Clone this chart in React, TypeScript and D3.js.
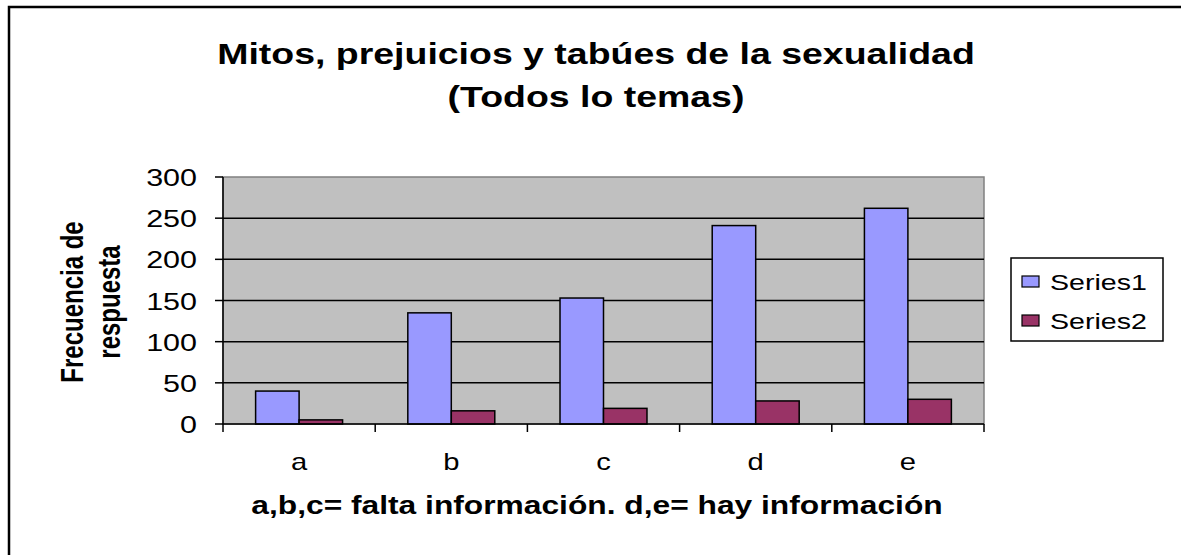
import React from "react";
import * as d3 from "d3";

const categories = ["a", "b", "c", "d", "e"];
const seriesNames = ["Series1", "Series2"];
const series1 = [40, 135, 153, 241, 262];
const series2 = [5, 16, 19, 28, 30];
const yTicks = [0, 50, 100, 150, 200, 250, 300];

const titleLines = ["Mitos, prejuicios y tabúes de la sexualidad", "(Todos lo temas)"];
const xTitle = "a,b,c= falta información. d,e= hay información";
const yTitleLines = ["Frecuencia de", "respuesta"];

const colors = ["#9999FF", "#993366"];
const font = "'Liberation Sans', Arial, sans-serif";
// the source picture is stretched sideways, so text gets the same stretch
const k = 1.27;

const W = 1181;
const H = 555;
const plot = {left: 223, right: 984, top: 177, bottom: 424};

const StretchText = ({x, y, size, anchor = "middle", bold = false, rotate = false, children}: any) => (
    <text
        transform={`translate(${x},${y}) scale(${k},1)${rotate ? " rotate(-90)" : ""}`}
        fontFamily={font}
        fontSize={size}
        fontWeight={bold ? "bold" : "normal"}
        textAnchor={anchor}
        fill="#000"
    >
        {children}
    </text>
);

export default function App() {
    const x = d3.scaleBand().domain(categories).range([plot.left, plot.right]).padding(0);
    const xInner = d3
        .scaleBand()
        .domain(seriesNames)
        .range([0, x.step()])
        .paddingInner(0)
        .paddingOuter(0.75);
    const y = d3.scaleLinear().domain([0, 300]).range([plot.bottom, plot.top]);

    const data = [series1, series2];
    const boundaries = [...categories.map(c => x(c) as number), plot.right];

    return (
        <svg width={W} height={H} style={{position: "absolute", left: 0, top: 0}}>
            <rect x={0} y={0} width={W} height={H} fill="#fff"/>
            <rect x={9} y={7} width={W + 20} height={H + 20} fill="none" stroke="#000" strokeWidth={2.5}/>

            {titleLines.map((t, i) => (
                <StretchText key={t} x={596} y={64 + i * 43} size={29.5} bold>{t}</StretchText>
            ))}

            {/* plot area */}
            <rect x={plot.left} y={plot.top} width={plot.right - plot.left} height={plot.bottom - plot.top}
                  fill="#C0C0C0" stroke="#808080" strokeWidth={1.5}/>
            {yTicks.filter(v => v > 0 && v < 300).map(v => (
                <line key={v} x1={plot.left} x2={plot.right} y1={y(v)} y2={y(v)} stroke="#000" strokeWidth={1.5}/>
            ))}

            {data.map((vals, si) =>
                vals.map((v, ci) => (
                    <rect
                        key={`${si}-${ci}`}
                        x={(x(categories[ci]) as number) + (xInner(seriesNames[si]) as number)}
                        y={y(v)}
                        width={xInner.bandwidth()}
                        height={y(0) - y(v)}
                        fill={colors[si]}
                        stroke="#000"
                        strokeWidth={1.5}
                    />
                ))
            )}

            {/* y axis */}
            <line x1={plot.left} x2={plot.left} y1={plot.top} y2={plot.bottom} stroke="#000" strokeWidth={1.5}/>
            {yTicks.map(v => (
                <g key={v}>
                    <line x1={plot.left - 8} x2={plot.left} y1={y(v)} y2={y(v)} stroke="#000" strokeWidth={1.5}/>
                    <StretchText x={197} y={y(v) + 9} size={24} anchor="end">{v}</StretchText>
                </g>
            ))}

            {/* x axis */}
            <line x1={plot.left} x2={plot.right} y1={plot.bottom} y2={plot.bottom} stroke="#000" strokeWidth={1.5}/>
            {boundaries.map((b, i) => (
                <line key={i} x1={b} x2={b} y1={plot.bottom} y2={plot.bottom + 8} stroke="#000" strokeWidth={1.5}/>
            ))}
            {categories.map(c => (
                <StretchText key={c} x={(x(c) as number) + x.bandwidth() / 2} y={470} size={23}>{c}</StretchText>
            ))}

            <StretchText x={597} y={514} size={25} bold>{xTitle}</StretchText>
            {yTitleLines.map((t, i) => (
                <StretchText key={t} x={83 + i * 37} y={302} size={24} bold rotate>{t}</StretchText>
            ))}

            {/* legend */}
            <rect x={1011} y={258} width={152} height={83} fill="#fff" stroke="#000" strokeWidth={1.5}/>
            {seriesNames.map((s, i) => (
                <g key={s}>
                    <rect x={1022} y={276 + i * 39} width={17} height={11} fill={colors[i]} stroke="#000"
                          strokeWidth={1.2}/>
                    <StretchText x={1050} y={290 + i * 39} size={22.5} anchor="start">{s}</StretchText>
                </g>
            ))}
        </svg>
    );
}
